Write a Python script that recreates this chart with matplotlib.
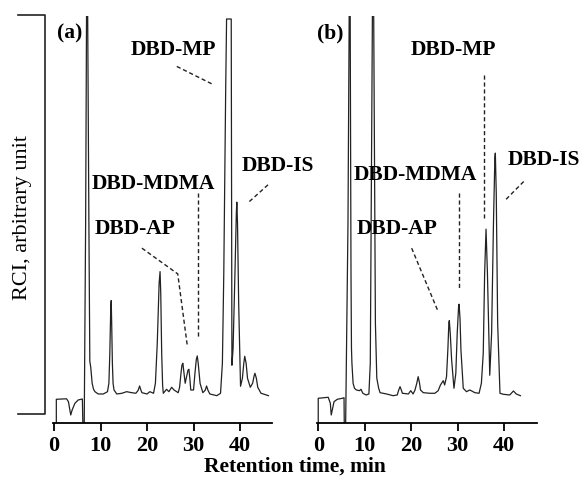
import matplotlib
matplotlib.use("Agg")
import matplotlib.pyplot as plt
from matplotlib.lines import Line2D

plt.rcParams['font.family'] = ['Liberation Serif', 'DejaVu Serif']

# Chromatogram (a): retention time (min) and signal (arbitrary units)
time_a = [0.5, 0.5, 2.7, 3.1, 3.6, 3.9, 4.5, 5.2, 6.1, 6.2, 6.5, 6.8, 7.1, 7.5,
          7.7, 7.9, 8.2, 8.5, 8.8, 9.5, 10.6, 11.5, 11.8, 12.0, 12.2, 12.3,
          12.4, 12.55, 12.7, 12.9, 13.5,
          14.6, 15.6, 16.7, 17.6, 18.1, 18.4, 18.7, 18.9, 20.0, 20.6, 21.4,
          21.8, 22.2, 22.6, 22.8, 22.95, 23.15, 23.35, 23.5, 24.2, 24.7, 25.3,
          25.8, 26.7, 27.0, 27.3, 27.5, 27.7, 27.9, 28.2, 28.5, 28.8,
          29.0, 29.2, 29.4, 30.0, 30.3, 30.6, 30.8, 31.0, 31.4, 32.0, 32.5,
          32.8, 33.1, 33.5, 35.0, 35.8, 36.2, 36.5, 36.9, 37.1, 38.1, 38.25,
          38.5, 38.9, 39.2, 39.3, 39.45, 39.7, 40.1, 40.5, 40.8, 41.0, 41.3,
          41.6, 42.2, 42.7, 43.0, 43.2, 43.5, 43.8, 44.5, 45.2, 46.1]
signal_a = [0, 24, 24.5, 21.6, 8.3, 13.3, 20, 23.3, 24.3, 0, 0, 200, 520, 200,
            62, 56, 40, 34, 31.6, 29.3, 29.3, 31.6, 40, 70, 115, 122.6,
            100, 60, 40, 33.3, 29.3,
            30, 31.6, 30.6, 30, 33, 37.3, 33, 30.6, 29.3, 31.6, 30,
            40, 80, 140, 151.6, 130, 70, 38, 30, 34, 31.6, 36,
            33.3, 30.6, 36, 50, 58, 60, 52, 40, 46.6, 53,
            54, 45, 33.3, 33.3, 50, 64, 67.3, 60, 40, 30.6, 33,
            37.3, 33, 29.3, 27.6, 30, 60, 150, 330, 404, 404, 58,
            75, 150, 210, 221, 200, 120, 37, 45, 60, 67, 60,
            45, 36, 40, 47, 50, 45, 36, 30, 29, 27.6]

# Chromatogram (b)
time_b = [0.0, 0.0, 2.15, 2.6, 2.8, 3.1, 3.4, 4.1, 5.2, 5.55, 5.6, 5.9, 6.4,
          6.8, 7.05, 7.15, 7.25, 7.5, 7.8, 8.2, 8.9, 9.2, 9.6, 10.3, 10.9,
          11.2, 11.8, 12.3, 12.6, 13.0, 13.3, 14.7, 16.1, 17.0, 17.3, 17.6,
          17.9, 18.1, 19.4, 19.9, 20.4, 20.8, 21.2, 21.5, 21.8, 22.0, 22.6,
          24.0, 25.1, 25.8, 26.3, 26.9, 27.2, 27.6, 27.9, 28.1, 28.2, 28.4,
          28.7, 29.2, 29.6, 29.9, 30.2, 30.3, 30.5, 30.7, 31.2, 31.9, 32.6,
          33.7, 34.6, 35.1, 35.5, 35.8, 36.1, 36.4, 36.9, 37.3, 37.7, 38.0,
          38.1, 38.3, 38.6, 39.1, 39.8, 41.2, 42.0, 42.6, 43.5]
signal_b = [0, 25, 26, 20, 8.3, 15, 21.6, 24, 25, 25.6, 0, 0, 200,
            520, 150, 75, 60, 40, 35, 33.3, 32.6, 34, 30, 28.3, 29.3,
            60, 520, 100, 45, 35, 30.6, 29.3, 27.6, 28.3, 33, 36.6,
            33, 30, 29.3, 32.6, 29.3, 33, 40, 46.6, 40, 33.3, 30.6,
            30, 30, 32.6, 38.3, 42.6, 38.3, 46.6, 75, 100, 102.6, 90,
            63.3, 35, 50, 90, 117, 119, 105, 73.3, 35, 31.6, 33.3,
            30.6, 30, 40, 70, 150, 194, 150, 48, 90, 200, 265,
            270, 230, 100, 30, 29, 28.3, 32.3, 29.3, 27.6]

tick_values = [0, 10, 20, 30, 40]

# peak labels: (text, x, y) and leader lines (xs, ys) in data units
labels_a = [("DBD-MP", 25.7, 372.8), ("DBD-IS", 48.2, 257),
            ("DBD-MDMA", 21.3, 238.8), ("DBD-AP", 17.4, 193.8)]
leaders_a = [([26.4, 34.3], [356.6, 338.3]), ([46.0, 42.0], [238.3, 221.6]),
             ([31.0, 31.0], [230.3, 86]), ([18.9, 26.6, 28.7], [175, 149.3, 76])]
labels_b = [("DBD-MP", 29.0, 372.8), ("DBD-IS", 48.6, 263.6),
            ("DBD-MDMA", 21.0, 247.8), ("DBD-AP", 17.0, 194.3)]
leaders_b = [([35.7, 35.7], [348.3, 205]), ([44.2, 40.3], [241.6, 223.3]),
             ([30.3, 30.3], [230, 133.3]), ([20.1, 25.8], [175, 111.6])]

W, H = 587, 482
fig = plt.figure(figsize=(W / 100, H / 100), dpi=100)
ax_a = fig.add_axes([53.3 / W, 58.7 / H, 218.4 / W, 407.3 / H])
ax_b = fig.add_axes([317.3 / W, 58.7 / H, 219.4 / W, 407.3 / H])

panels = [
    (ax_a, time_a, signal_a, labels_a, leaders_a, "(a)", 3.4, (-0.15, 46.8)),
    (ax_b, time_b, signal_b, labels_b, leaders_b, "(b)", 2.5, (-0.2, 47.0)),
]

for ax, t, s, labs, leads, tag, tag_x, xl in panels:
    ax.plot(t, s, color="#222222", lw=0.9)
    ax.set_xlim(*xl)
    ax.set_ylim(0, 407)
    for side in ["top", "right", "left"]:
        ax.spines[side].set_visible(False)
    ax.spines["bottom"].set_linewidth(1.3)
    ax.set_yticks([])
    ax.set_xticks(tick_values)
    ax.set_xticklabels([str(v) for v in tick_values], fontsize=16,
                       fontweight="bold")
    ax.tick_params(axis="x", direction="out", length=6, width=1.3, pad=3)
    ax.patch.set_alpha(0)
    for txt, x, y in labs:
        ax.text(x, y, txt, ha="center", va="center", fontsize=15.5,
                fontweight="bold", clip_on=False)
    for xs, ys in leads:
        ax.plot(xs, ys, color="#222222", lw=1.0, ls=(0, (3, 2)), clip_on=False)
    ax.text(tag_x, 390, tag, ha="center", va="center", fontsize=15.5,
            fontweight="bold")

# bracket standing in for the y axis
fig.add_artist(Line2D([18 / W, 45 / W, 45 / W, 18 / W],
                      [1 - 15 / H, 1 - 15 / H, 1 - 414 / H, 1 - 414 / H],
                      transform=fig.transFigure, color="#222222", lw=1.2))

fig.text(23 / W, 1 - 217 / H, "RCI, arbitrary unit", rotation=90,
         ha="center", va="center", fontsize=16)
fig.text(295 / W, 1 - 467 / H, "Retention time, min", ha="center",
         va="center", fontsize=15.5, fontweight="bold")

fig.savefig("out.png", dpi=100)
